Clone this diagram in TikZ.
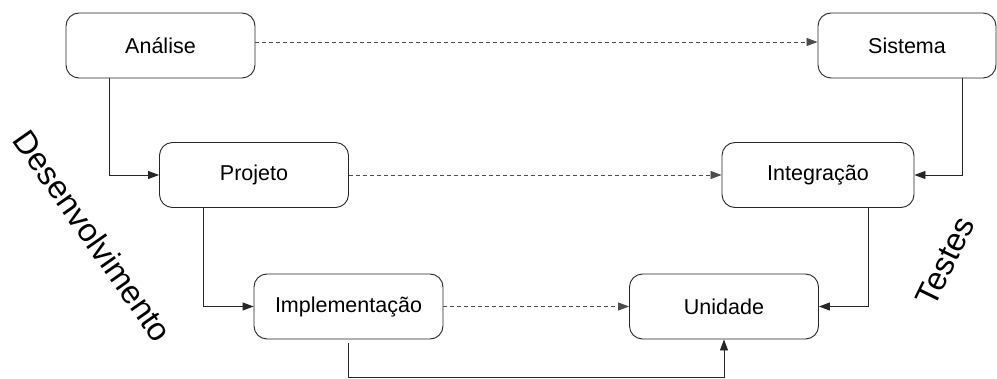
\documentclass[tikz,border=0pt]{standalone}
\usepackage{fontspec}
\setmainfont{Liberation Sans}
\usetikzlibrary{arrows.meta}
\begin{document}
\begin{tikzpicture}[x=1pt,y=1pt,
  stage/.style={draw=black!85, line width=0.9pt, rounded corners=13pt,
    minimum width=189pt, minimum height=65pt, inner sep=0pt,
    font=\fontsize{21.5}{25}\selectfont},
  conn/.style={draw=black!85, line width=0.9pt, -{Triangle[length=11pt,width=8pt]}},
  link/.style={draw=black!70, line width=0.8pt, dash pattern=on 4pt off 3pt,
    -{Triangle[length=11pt,width=8pt]}},
  phase/.style={font=\fontsize{32.5}{36}\selectfont}]
\useasboundingbox (0,0) rectangle (997,378);

% development branch
\node[stage] (ana) at (160.5,332.5) {Análise};
\node[stage] (pro) at (254,203) {Projeto};
\node[stage] (imp) at (348.5,71.5) {Implementação};

% test branch
\node[stage, minimum width=178pt] (sis) at (907,332.5) {Sistema};
\node[stage, minimum width=192pt] (int) at (818,203) {Integração};
\node[stage] (uni) at (724,71.5) {Unidade};

% phase labels
\node[phase, rotate=-55] (dev) at (93,142) {Desenvolvimento};
\node[phase, rotate=64] (tst) at (945,117) {Testes};

% descending flow
\draw[conn] ([xshift=44pt]ana.south west) |- (pro.west);
\draw[conn] ([xshift=44pt]pro.south west) |- (imp.west);
\draw[conn] ([yshift=-4pt]imp.south) -- ++(0,-34) -| (uni.south);
\draw[conn] ([xshift=145pt]sis.south west) |- (int.east);
\draw[conn] ([xshift=147pt]int.south west) |- (uni.east);

% correspondences
\draw[link] ([yshift=3.5pt]ana.east) -- ([yshift=3.5pt]sis.west);
\draw[link] (pro.east) -- (int.west);
\draw[link] (imp.east) -- (uni.west);
\end{tikzpicture}
\end{document}
